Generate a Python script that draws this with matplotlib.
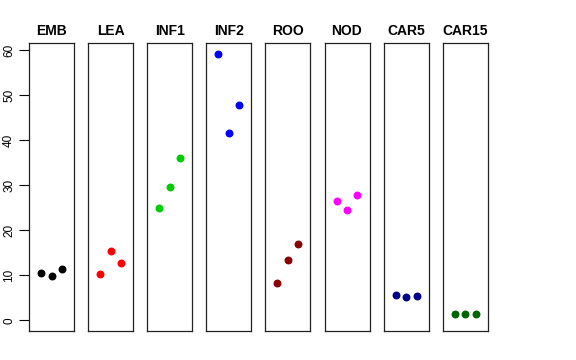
import numpy as np
import matplotlib
matplotlib.use('Agg')
import matplotlib.pyplot as plt

plt.rcParams['font.family'] = ['Liberation Sans', 'DejaVu Sans']

# tissue samples, three replicates each
tissues = ['EMB', 'LEA', 'INF1', 'INF2', 'ROO', 'NOD', 'CAR5', 'CAR15']
emb = [10.5, 9.9, 11.3]
lea = [10.2, 15.3, 12.7]
inf1 = [24.9, 29.6, 36.1]
inf2 = [59.2, 41.5, 47.7]
roo = [8.3, 13.3, 16.9]
nod = [26.4, 24.5, 27.9]
car5 = [5.6, 5.2, 5.3]
car15 = [1.3, 1.3, 1.5]
values = [emb, lea, inf1, inf2, roo, nod, car5, car15]
colors = ['black', 'red', '#00CD00', 'blue', '#8B0000', 'magenta', '#00008B', '#006400']

ymax = max(max(v) for v in values)
ylo, yhi = 0, ymax
pad = (yhi - ylo) * 0.04

fig = plt.figure(figsize=(5.76, 3.6), dpi=100)
W, H = 576, 360
left0, step, pw = 29, 59.1, 45
top, bot = 43, 331

for i, (name, vals, col) in enumerate(zip(tissues, values, colors)):
    x0 = left0 + i * step
    ax = fig.add_axes([x0 / W, (H - bot) / H, pw / W, (bot - top) / H])
    ax.scatter([1, 2, 3], vals, s=22, color=col, zorder=3)
    ax.set_xlim(-0.16, 4.16)
    ax.set_ylim(ylo - pad, yhi + pad)
    ax.set_xticks([])
    for s in ax.spines.values():
        s.set_linewidth(0.9)
        s.set_color('#222222')
    ax.set_title(name, fontsize=10, fontweight='bold', pad=6)
    if i == 0:
        ax.set_yticks(np.arange(0, 61, 10))
        ax.tick_params(axis='y', length=7, width=0.8, labelsize=8.5, pad=3)
        for lab in ax.get_yticklabels():
            lab.set_rotation(90)
            lab.set_va('center')
    else:
        ax.set_yticks([])

plt.savefig('out.png', dpi=100)
